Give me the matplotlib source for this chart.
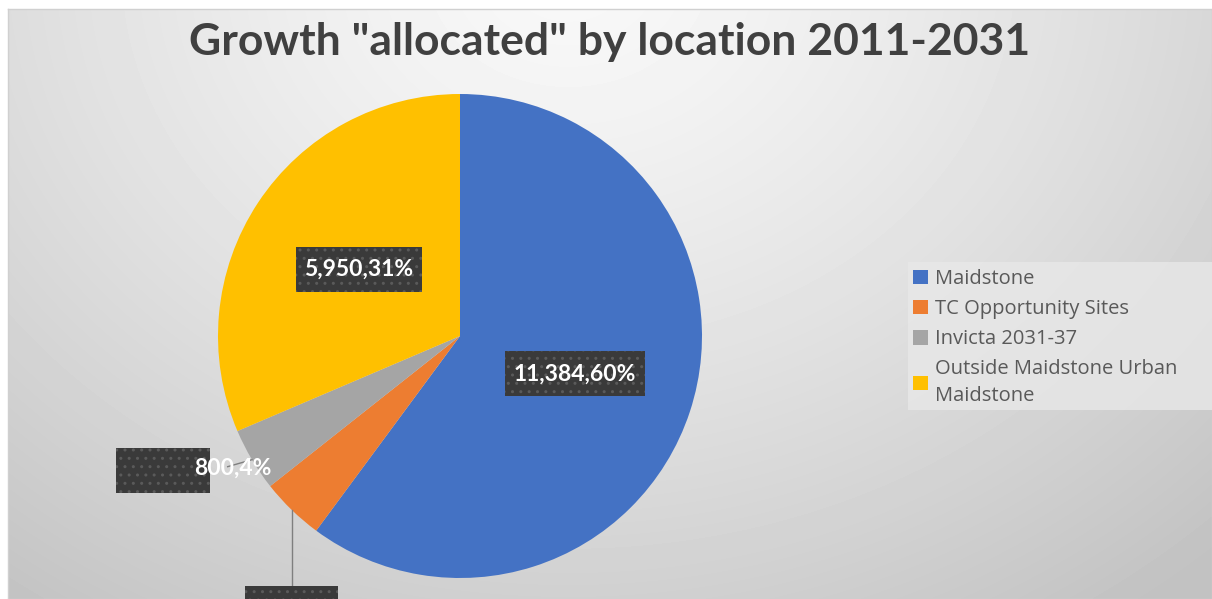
import numpy as np
import matplotlib.pyplot as plt
from matplotlib.patches import Rectangle

# data
locations = ["Maidstone", "TC Opportunity Sites", "Invicta 2031-37",
             "Outside Maidstone Urban\nMaidstone"]
homes = [11384, 800, 800, 5950]
colours = ["#4472C4", "#ED7D31", "#A5A5A5", "#FFC000"]

W, H = 1212, 599
fig = plt.figure(figsize=(W / 100, H / 100), dpi=100)
fig.patch.set_facecolor("white")

# chart area background: soft radial gradient
bg = fig.add_axes([8 / W, 0, 1 - 8 / W, 1 - 9 / H])
yy, xx = np.mgrid[0:590, 0:1204]
r = np.hypot(xx - 560, (yy + 40) * 1.2) / 900.0
shade = np.clip(0.975 - 0.2 * r ** 1.3, 0.76, 1)
bg.imshow(shade, cmap="gray", vmin=0, vmax=1, aspect="auto",
          extent=[0, 1, 0, 1], origin="upper")
bg.set_xticks([])
bg.set_yticks([])
for s in bg.spines.values():
    s.set_color("#d0d0d0")
    s.set_linewidth(1)

# legend backdrop running off the right edge
fig.patches.append(Rectangle((908 / W, 1 - 410 / H), 1 - 908 / W, 148 / H,
                             transform=fig.transFigure, facecolor="#e8e8e8",
                             alpha=0.8, edgecolor="none", zorder=1))

fig.text(610 / W, 1 - 42 / H, 'Growth "allocated" by location 2011-2031',
         ha="center", va="center", fontsize=32, fontweight="bold",
         color="#404040", family="Lato")

# pie: centre (460, 336) px, radius 242 px
cx, cy, rad = 460, 336, 242
ax = fig.add_axes([(cx - rad) / W, (H - cy - rad) / H, 2 * rad / W, 2 * rad / H])
wedges, _ = ax.pie(homes, colors=colours, startangle=90, counterclock=False,
                   radius=1, wedgeprops=dict(linewidth=0))
ax.set_xlim(-1, 1)
ax.set_ylim(-1, 1)
ax.set_aspect("equal")
ax.axis("off")

total = sum(homes)
labels = [f"{v:,},{round(100 * v / total)}%" for v in homes]
box_c = "#3a3a3a"
lab_font = dict(color="white", fontsize=16.5, fontweight="bold",
                family="Lato", zorder=4, ha="center", va="center")


def mid(w):
    return np.deg2rad((w.theta1 + w.theta2) / 2)


def box(x, y, w, h):
    ax.add_patch(Rectangle((x - w / 2, y - h / 2), w, h, facecolor=box_c,
                           edgecolor="#5a5a5a", linewidth=0, hatch="..",
                           clip_on=False, zorder=3))


# inside labels (Maidstone, Outside)
for i in (0, 3):
    a = mid(wedges[i])
    x, y = 0.5 * np.cos(a), 0.5 * np.sin(a)
    w = 0.58 if i == 0 else 0.52
    box(x, y, w, 0.186)
    ax.text(x, y, labels[i], **lab_font)

# Invicta label with leader
a = mid(wedges[2])
ex, ey = np.cos(a), np.sin(a)
ax.plot([ex, -0.96], [ey, -0.54], color="#7f7f7f", lw=1, clip_on=False, zorder=2)
box(-1.227, -0.554, 0.385, 0.186)
ax.text(-0.94, -0.545, labels[2], **lab_font)

# TC label box, its text falls below the visible area
a = mid(wedges[1])
ex, ey = np.cos(a), np.sin(a)
ax.plot([ex, ex], [ey, -1.03], color="#7f7f7f", lw=1, clip_on=False, zorder=2)
box(ex, -1.126, 0.385, 0.186)

leg = fig.legend(wedges, locations, loc="upper left",
                 bbox_to_anchor=(906 / W, 1 - 262 / H), frameon=False,
                 handlelength=0.75, handleheight=0.75,
                 handletextpad=0.35, labelspacing=0.5, borderpad=0.35,
                 borderaxespad=0, prop=dict(family="Open Sans", size=14.5))
for t in leg.get_texts():
    t.set_color("#595959")
    t.set_linespacing(1.45)

fig.savefig("out.png", dpi=100)
